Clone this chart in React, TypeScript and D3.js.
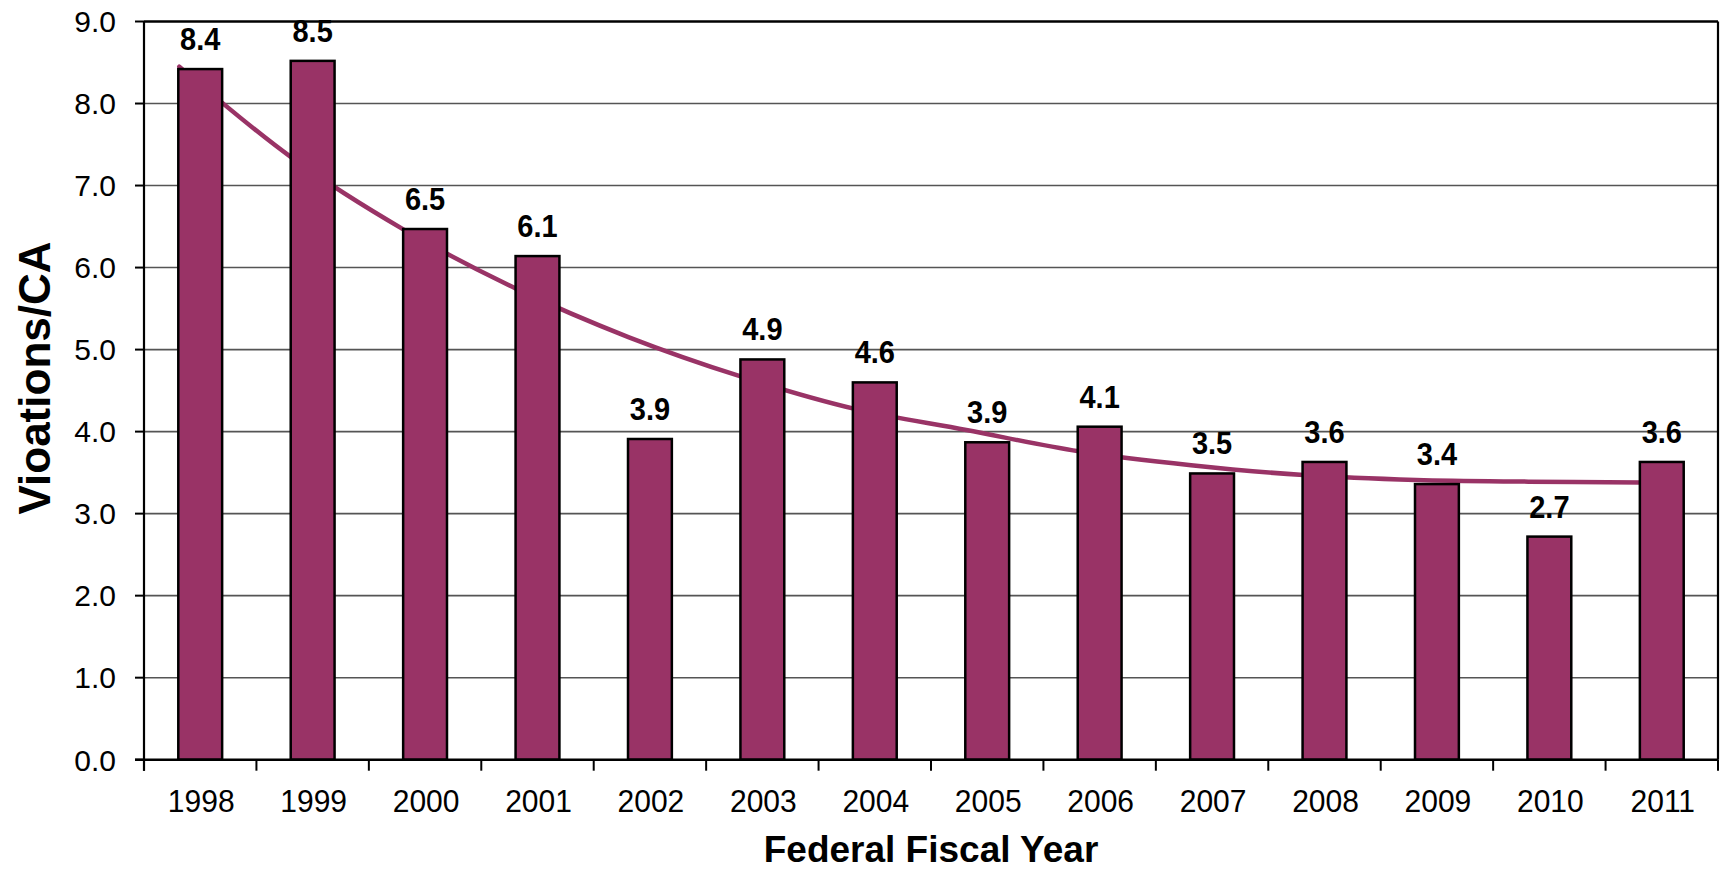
import React from "react";
import * as d3 from "d3";

const years = ["1998","1999","2000","2001","2002","2003","2004","2005","2006","2007","2008","2009","2010","2011"];
const values = [8.42, 8.52, 6.47, 6.14, 3.91, 4.88, 4.60, 3.87, 4.06, 3.49, 3.63, 3.36, 2.72, 3.63];
const trend = [8.45, 7.34, 6.46, 5.74, 5.15, 4.67, 4.28, 4.02, 3.76, 3.59, 3.47, 3.41, 3.39, 3.38];
const yTicks = [0, 1, 2, 3, 4, 5, 6, 7, 8, 9];

const W = 1723, H = 869;
const left = 144, right = 1718, top = 21.5, bottom = 759.7;
const COLOR = "#993366";
const FONT = "'Liberation Sans', Arial, Helvetica, sans-serif";

export default function App() {
  const x = d3.scaleBand<string>().domain(years).range([left, right]).paddingInner(0.61).paddingOuter(0.305);
  const y = d3.scaleLinear().domain([0, 9]).range([bottom, top]);
  const step = x.step();
  const bw = x.bandwidth();

  const line = d3.line<number>()
    .x((_, i) => (x(years[i]) as number) + 1)
    .y((d) => y(d))
    .curve(d3.curveCatmullRom.alpha(0.5));

  const boundaries = d3.range(years.length + 1).map((i) => left + i * step);

  return (
    <div style={{ position: "absolute", left: 0, top: 0 }}>
      <svg width={W} height={H} style={{ display: "block", background: "#fff" }} fontFamily={FONT}>
        <rect x={0} y={0} width={W} height={H} fill="#fff" />
        {/* gridlines */}
        {yTicks.filter((t) => t > 0 && t < 9).map((t) => (
          <line key={t} x1={left} x2={right} y1={y(t)} y2={y(t)} stroke="#555" strokeWidth={1.6} />
        ))}
        {/* top and right border */}
        <line x1={left} x2={right} y1={y(9)} y2={y(9)} stroke="#000" strokeWidth={2.5} />
        <line x1={right} x2={right} y1={y(9)} y2={bottom} stroke="#000" strokeWidth={2.2} />
        {/* trend line behind bars */}
        <path d={line(trend) || ""} fill="none" stroke={COLOR} strokeWidth={4.5} strokeLinecap="round" />
        {/* bars */}
        {values.map((v, i) => (
          <rect key={years[i]} x={x(years[i])} y={y(v)} width={bw} height={bottom - y(v)}
            fill={COLOR} stroke="#000" strokeWidth={2.5} />
        ))}
        {/* value labels */}
        {values.map((v, i) => (
          <text key={"l" + i} transform={`translate(${(x(years[i]) as number) + bw / 2}, ${y(v) - 19}) scale(1, 1.08)`} textAnchor="middle"
            fontSize={29} fontWeight="bold" fill="#000">{v.toFixed(1)}</text>
        ))}
        {/* axes */}
        <line x1={left} x2={left} y1={y(9)} y2={bottom + 11} stroke="#000" strokeWidth={2.2} />
        <line x1={left - 9} x2={right} y1={bottom} y2={bottom} stroke="#000" strokeWidth={2.5} />
        {yTicks.map((t) => (
          <g key={"yt" + t}>
            <line x1={left - 9} x2={left} y1={y(t)} y2={y(t)} stroke="#000" strokeWidth={2} />
            <text x={116} y={y(t) + 10.8} textAnchor="end" fontSize={30} fill="#000">{t.toFixed(1)}</text>
          </g>
        ))}
        {boundaries.map((b, i) => (
          <line key={"xt" + i} x1={b} x2={b} y1={bottom} y2={bottom + 11} stroke="#000" strokeWidth={2} />
        ))}
        {years.map((yr) => (
          <text key={"xl" + yr} transform={`translate(${(x(yr) as number) + bw / 2 + 1}, 812) scale(1, 1.06)`} textAnchor="middle" fontSize={30} fill="#000">{yr}</text>
        ))}
        {/* axis titles */}
        <text x={(left + right) / 2} y={862} textAnchor="middle" fontSize={37} fontWeight="bold" fill="#000">Federal Fiscal Year</text>
        <text transform={`translate(50, 378) rotate(-90)`} textAnchor="middle" fontSize={44} fontWeight="bold" fill="#000">Vioations/CA</text>
      </svg>
    </div>
  );
}
